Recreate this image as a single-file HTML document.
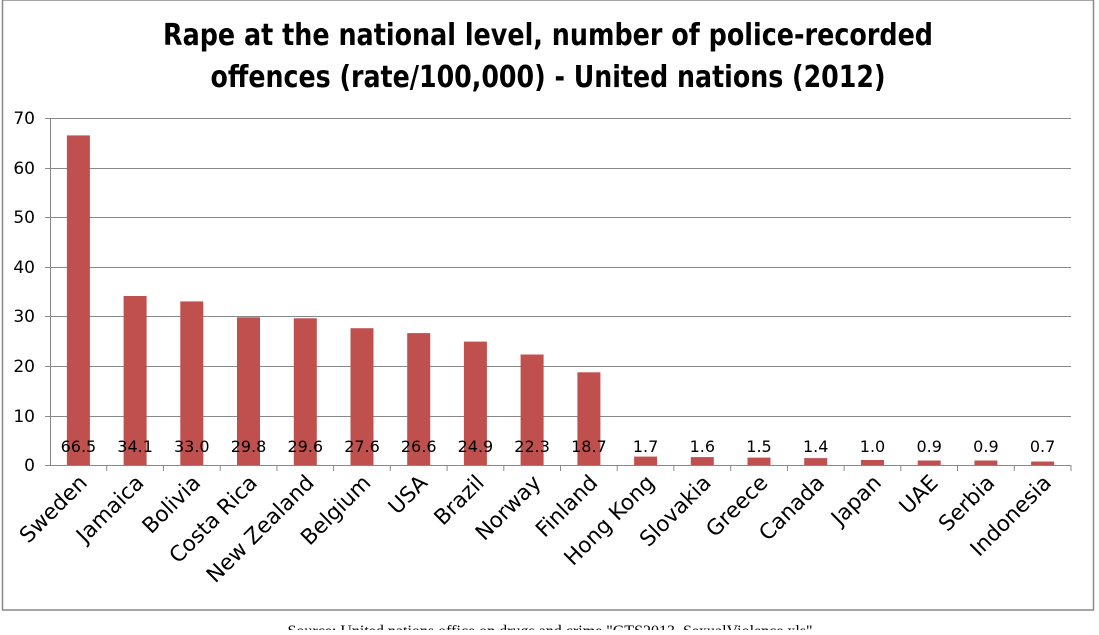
<!DOCTYPE html>
<html><head><style>body{margin:0;background:#fff}</style></head><body>
<svg width="1099" height="630" xmlns="http://www.w3.org/2000/svg" font-family="'DejaVu Sans','Liberation Sans',sans-serif">
<rect x="2.5" y="0" width="1091" height="610" fill="#fff" stroke="#888" stroke-width="1.5"/>
<text x="548" y="45" text-anchor="middle" font-size="30" font-weight="bold" textLength="770" lengthAdjust="spacingAndGlyphs">Rape at the national level, number of police-recorded</text>
<text x="548" y="87" text-anchor="middle" font-size="30" font-weight="bold" textLength="675" lengthAdjust="spacingAndGlyphs">offences (rate/100,000) - United nations (2012)</text>
<g stroke="#888" stroke-width="1">
<line x1="45" y1="118.5" x2="1071" y2="118.5"/><line x1="45" y1="168.5" x2="1071" y2="168.5"/><line x1="45" y1="217.5" x2="1071" y2="217.5"/><line x1="45" y1="267.5" x2="1071" y2="267.5"/><line x1="45" y1="316.5" x2="1071" y2="316.5"/><line x1="45" y1="366.5" x2="1071" y2="366.5"/><line x1="45" y1="416.5" x2="1071" y2="416.5"/>
<line x1="50.5" y1="118" x2="50.5" y2="466"/><line x1="45" y1="465.5" x2="1071" y2="465.5"/>
<line x1="106.7" y1="465" x2="106.7" y2="471"/><line x1="163.4" y1="465" x2="163.4" y2="471"/><line x1="220.2" y1="465" x2="220.2" y2="471"/><line x1="276.9" y1="465" x2="276.9" y2="471"/><line x1="333.6" y1="465" x2="333.6" y2="471"/><line x1="390.3" y1="465" x2="390.3" y2="471"/><line x1="447.1" y1="465" x2="447.1" y2="471"/><line x1="503.8" y1="465" x2="503.8" y2="471"/><line x1="560.5" y1="465" x2="560.5" y2="471"/><line x1="617.2" y1="465" x2="617.2" y2="471"/><line x1="673.9" y1="465" x2="673.9" y2="471"/><line x1="730.7" y1="465" x2="730.7" y2="471"/><line x1="787.4" y1="465" x2="787.4" y2="471"/><line x1="844.1" y1="465" x2="844.1" y2="471"/><line x1="900.8" y1="465" x2="900.8" y2="471"/><line x1="957.5" y1="465" x2="957.5" y2="471"/><line x1="1014.3" y1="465" x2="1014.3" y2="471"/><line x1="1071" y1="465" x2="1071" y2="471"/>
</g>
<g font-size="17" text-anchor="end" fill="#000">
<text x="35" y="124">70</text><text x="35" y="174">60</text><text x="35" y="223">50</text><text x="35" y="273">40</text><text x="35" y="322">30</text><text x="35" y="372">20</text><text x="35" y="422">10</text><text x="35" y="471">0</text>
</g>
<g fill="#c0504d">
<rect x="66.9" y="135.4" width="23" height="329.6"/>
<rect x="123.6" y="296" width="23" height="169"/>
<rect x="180.3" y="301.4" width="23" height="163.6"/>
<rect x="237" y="317.3" width="23" height="147.7"/>
<rect x="293.8" y="318.3" width="23" height="146.7"/>
<rect x="350.5" y="328.2" width="23" height="136.8"/>
<rect x="407.2" y="333.1" width="23" height="131.9"/>
<rect x="463.9" y="341.6" width="23" height="123.4"/>
<rect x="520.6" y="354.5" width="23" height="110.5"/>
<rect x="577.4" y="372.3" width="23" height="92.7"/>
<rect x="634.1" y="456.6" width="23" height="8.4"/>
<rect x="690.8" y="457.1" width="23" height="7.9"/>
<rect x="747.5" y="457.6" width="23" height="7.4"/>
<rect x="804.2" y="458.1" width="23" height="6.9"/>
<rect x="861" y="460" width="23" height="5"/>
<rect x="917.7" y="460.5" width="23" height="4.5"/>
<rect x="974.4" y="460.5" width="23" height="4.5"/>
<rect x="1031.1" y="461.5" width="23" height="3.5"/>
</g>
<g font-size="16" text-anchor="middle">
<text x="78.4" y="452">66.5</text><text x="135.1" y="452">34.1</text><text x="191.8" y="452">33.0</text><text x="248.5" y="452">29.8</text><text x="305.3" y="452">29.6</text><text x="362" y="452">27.6</text><text x="418.7" y="452">26.6</text><text x="475.4" y="452">24.9</text><text x="532.1" y="452">22.3</text><text x="588.9" y="452">18.7</text><text x="645.6" y="452">1.7</text><text x="702.3" y="452">1.6</text><text x="759" y="452">1.5</text><text x="815.7" y="452">1.4</text><text x="872.5" y="452">1.0</text><text x="929.2" y="452">0.9</text><text x="985.9" y="452">0.9</text><text x="1042.6" y="452">0.7</text>
</g>
<g font-size="21.5" text-anchor="end">
<text transform="translate(88.4,484) rotate(-45)">Sweden</text>
<text transform="translate(145.1,484) rotate(-45)">Jamaica</text>
<text transform="translate(201.8,484) rotate(-45)">Bolivia</text>
<text transform="translate(258.5,484) rotate(-45)">Costa Rica</text>
<text transform="translate(315.3,484) rotate(-45)">New Zealand</text>
<text transform="translate(372,484) rotate(-45)">Belgium</text>
<text transform="translate(428.7,484) rotate(-45)">USA</text>
<text transform="translate(485.4,484) rotate(-45)">Brazil</text>
<text transform="translate(542.1,484) rotate(-45)">Norway</text>
<text transform="translate(598.9,484) rotate(-45)">Finland</text>
<text transform="translate(655.6,484) rotate(-45)">Hong Kong</text>
<text transform="translate(712.3,484) rotate(-45)">Slovakia</text>
<text transform="translate(769,484) rotate(-45)">Greece</text>
<text transform="translate(825.7,484) rotate(-45)">Canada</text>
<text transform="translate(882.5,484) rotate(-45)">Japan</text>
<text transform="translate(939.2,484) rotate(-45)">UAE</text>
<text transform="translate(995.9,484) rotate(-45)">Serbia</text>
<text transform="translate(1052.6,484) rotate(-45)">Indonesia</text>
</g>
<text x="550" y="636" text-anchor="middle" font-size="16" font-family="'Liberation Serif',serif">Source: United nations office on drugs and crime "GTS2013_SexualViolence.xls"</text>
</svg>
</body></html>
